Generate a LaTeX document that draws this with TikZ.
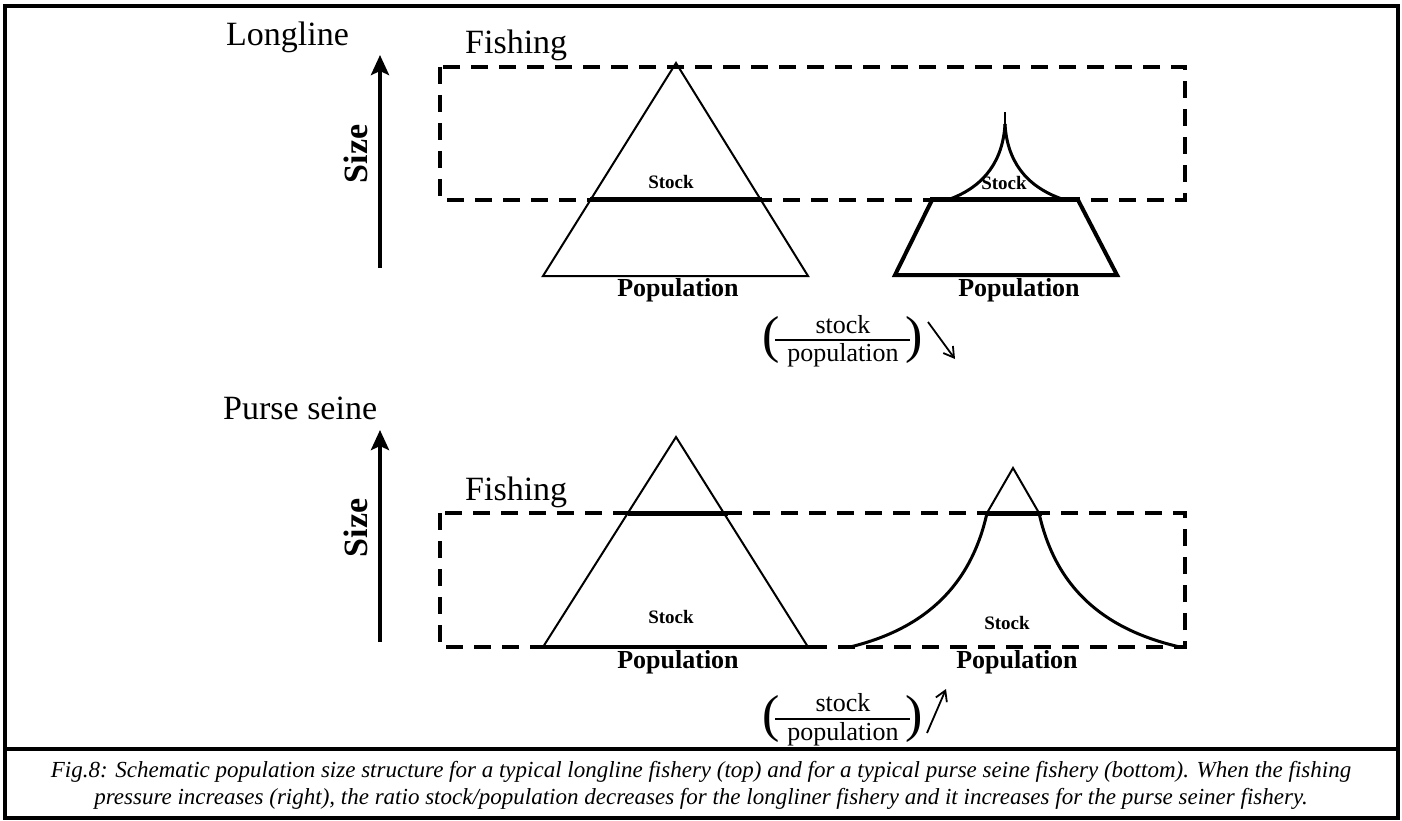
\documentclass[tikz,border=0pt]{standalone}
\usepackage{fontspec}
\setmainfont{Liberation Serif}
\usetikzlibrary{arrows.meta,calc}
\tikzset{
  frame/.style={line width=3.5pt},
  fishbox/.style={line width=4.5pt, dash pattern=on 17pt off 11pt},
  thinside/.style={line width=2pt, line join=miter},
  thickside/.style={line width=4pt, line join=miter},
  stockline/.style={line width=5pt},
  curveline/.style={line width=3pt},
  sizearrow/.style={line width=4pt, -{Stealth[length=20pt,width=18pt,inset=4pt]}},
  trendarrow/.style={line width=1.8pt, -{Straight Barb[length=10pt,width=12pt]}},
  bigtitle/.style={inner sep=0pt, font=\fontsize{34}{38}\selectfont},
  sizelabel/.style={inner sep=0pt, rotate=90, font=\fontsize{34}{36}\selectfont\bfseries},
  stocklabel/.style={inner sep=0pt, font=\fontsize{19}{22}\selectfont\bfseries},
  poplabel/.style={inner sep=0pt, font=\fontsize{26}{30}\selectfont\bfseries},
  fractext/.style={inner sep=0pt, font=\fontsize{26}{30}\selectfont},
  paren/.style={inner sep=0pt, font=\fontsize{52}{56}\selectfont},
  captext/.style={inner sep=0pt, font=\fontsize{23}{27}\selectfont\itshape},
}
\begin{document}
\begin{tikzpicture}[x=1pt,y=-1pt]
\useasboundingbox (0,0) rectangle (1402,821);
% frame
\draw[frame] (5,6) rectangle (1398,818);
\draw[frame] (5,749) -- (1398,749);

% ---------- Longline ----------
\node[bigtitle, anchor=base west] (tLong) at (226,46) {Longline};
\node[bigtitle, anchor=base west] (tFish1) at (465,54) {Fishing};
\coordinate (sz1b) at (380,268);
\coordinate (sz1t) at (380,55);
\draw[sizearrow] (sz1b) -- (sz1t);
\node[sizelabel] (tSize1) at (356,154) {Size};
\draw[fishbox] (440,67) rectangle (1185,200);
% left triangle
\draw[thinside] (676,63) -- (543,276) -- (808,276) -- cycle;
\draw[stockline] (590,200) -- (762,200);
\node[stocklabel] (tStock1) at (671,182) {Stock};
\node[poplabel] (tPop1) at (678,290) {Population};
% right trapezoid with cusp
\draw[thickside] (932,200) -- (895,275) -- (1117,275) -- (1078,200);
\draw[stockline] (930,200) -- (1080,200);
\draw[curveline] (950,199) .. controls (985,186) and (1003,160) .. (1005,124);
\draw[curveline] (1062,199) .. controls (1025,186) and (1007,160) .. (1005,124);
\draw[line width=1.5pt] (1005,124) -- (1005,112);
\node[stocklabel] (tStock2) at (1004,183) {Stock};
\node[poplabel] (tPop2) at (1019,290) {Population};
% ratio
\node[fractext] (fr1s) at (843,325) {stock};
\node[fractext] (fr1p) at (843,355) {population};
\node[paren] (fr1l) at (771,340) {(};
\node[paren] (fr1r) at (914,340) {)};
\draw[line width=1.6pt] ($(fr1l.center)+(4,0)$) -- ($(fr1r.center)+(-4,0)$);
\coordinate (ar1a) at (928,322);
\coordinate (ar1b) at (955,359);
\draw[trendarrow] (ar1a) -- (ar1b);

% ---------- Purse seine ----------
\node[bigtitle, anchor=base west] (tPurse) at (223,419) {Purse seine};
\node[bigtitle, anchor=base west] (tFish2) at (465,500) {Fishing};
\coordinate (sz2b) at (380,642);
\coordinate (sz2t) at (380,430);
\draw[sizearrow] (sz2b) -- (sz2t);
\node[sizelabel] (tSize2) at (356,528) {Size};
\draw[fishbox] (440,513) rectangle (1185,647);
% left triangle
\draw[thinside] (676,437) -- (543,647) -- (808,647) -- cycle;
\draw[stockline] (628,513) -- (728,513);
\draw[line width=4pt] (541,647) -- (812,647);
\node[stocklabel] (tStock3) at (671,617) {Stock};
\node[poplabel] (tPop3) at (678,662) {Population};
% right bell
\draw[thinside] (987,513) -- (1013,468) -- (1039,513);
\draw[stockline] (985,513) -- (1042,513);
\draw[curveline] (987,513) .. controls (970,590) and (920,630) .. (850,647);
\draw[curveline] (1039,513) .. controls (1056,590) and (1106,630) .. (1180,647);
\node[stocklabel] (tStock4) at (1007,623) {Stock};
\node[poplabel] (tPop4) at (1017,662) {Population};
% ratio
\node[fractext] (fr2s) at (843,703) {stock};
\node[fractext] (fr2p) at (843,734) {population};
\node[paren] (fr2l) at (771,719) {(};
\node[paren] (fr2r) at (914,719) {)};
\draw[line width=1.6pt] ($(fr2l.center)+(4,0)$) -- ($(fr2r.center)+(-4,0)$);
\coordinate (ar2a) at (927,733);
\coordinate (ar2b) at (946,689);
\draw[trendarrow] (ar2a) -- (ar2b);

% ---------- caption ----------
\node[captext] (cap1) at (701,772) {Fig.8: Schematic population size structure for a typical longline fishery (top) and for a typical purse seine fishery (bottom). When the fishing};
\node[captext] (cap2) at (701,799) {pressure increases (right), the ratio stock/population decreases for the longliner fishery and it increases for the purse seiner fishery.};
\end{tikzpicture}
\end{document}
